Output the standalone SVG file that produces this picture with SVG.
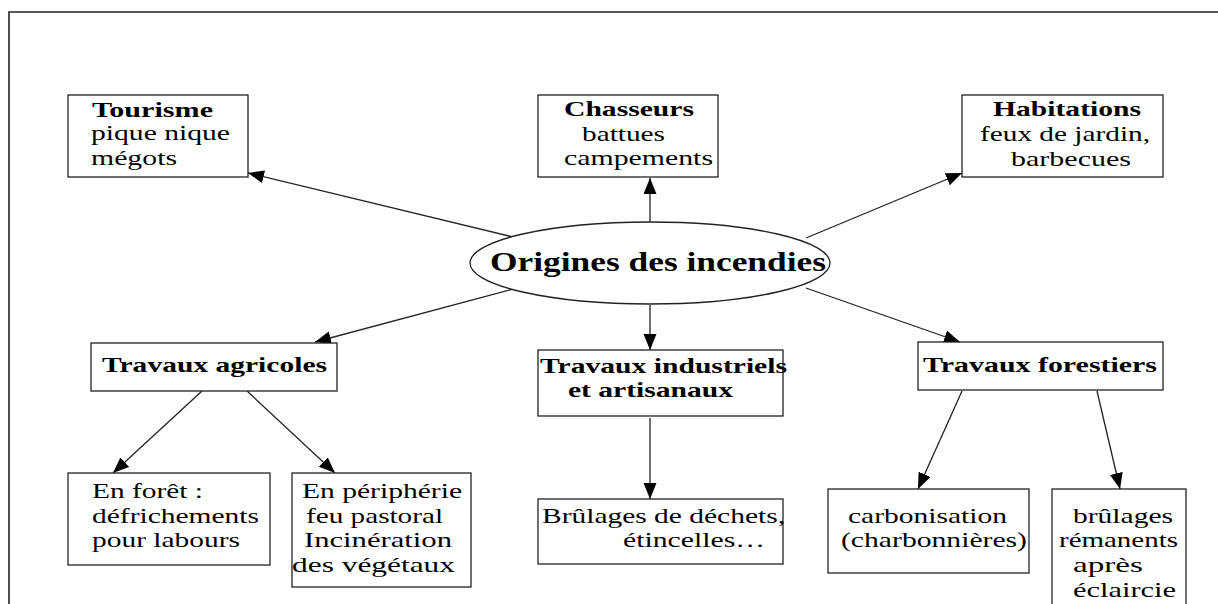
<svg xmlns="http://www.w3.org/2000/svg" width="1218" height="604" viewBox="0 0 1218 604">
<style>
.box{fill:#fff;stroke:#222;stroke-width:1.3}
.t{font-family:"Liberation Serif","Times New Roman",serif;font-size:22px;fill:#000}
.b{font-weight:bold}
.title{font-family:"Liberation Serif","Times New Roman",serif;font-size:28px;font-weight:bold;fill:#000}
.edge{stroke:#222;stroke-width:1.3;fill:none;marker-end:url(#arr)}
</style>
<defs>
<marker id="arr" markerUnits="userSpaceOnUse" markerWidth="17" markerHeight="14" refX="16" refY="6.5" orient="auto">
<path d="M0,0 L16,6.5 L0,13 z" fill="#000"/>
</marker>
</defs>
<rect x="0" y="0" width="1218" height="604" fill="#fff"/>
<path d="M9,610 L9,12 L1225,12" fill="none" stroke="#222" stroke-width="1.6"/>

<g id="connectors">
<line class="edge" x1="513" y1="237" x2="248" y2="173"/>
<line class="edge" x1="650" y1="222" x2="650" y2="178"/>
<line class="edge" x1="806" y1="238" x2="962" y2="173"/>
<line class="edge" x1="513" y1="289" x2="315" y2="342"/>
<line class="edge" x1="650" y1="305" x2="650" y2="350"/>
<line class="edge" x1="806" y1="288" x2="960" y2="342"/>
<line class="edge" x1="202" y1="391" x2="113" y2="473"/>
<line class="edge" x1="247" y1="391" x2="335" y2="473"/>
<line class="edge" x1="650" y1="418" x2="650" y2="499"/>
<line class="edge" x1="962" y1="391" x2="918" y2="489"/>
<line class="edge" x1="1097" y1="391" x2="1120" y2="489"/>
</g>

<g id="origines">
<ellipse cx="650" cy="263" rx="180" ry="41" fill="#fff" stroke="#222" stroke-width="1.3"/>
<text class="title" x="490" y="271" textLength="336" lengthAdjust="spacingAndGlyphs">Origines des incendies</text>
</g>

<g id="tourisme">
<rect class="box" x="68" y="95" width="180" height="82"/>
<text class="t b" x="92" y="117" textLength="121" lengthAdjust="spacingAndGlyphs">Tourisme</text>
<text class="t" x="91" y="140" textLength="139" lengthAdjust="spacingAndGlyphs">pique nique</text>
<text class="t" x="91" y="165" textLength="86" lengthAdjust="spacingAndGlyphs">mégots</text>
</g>

<g id="chasseurs">
<rect class="box" x="538" y="95" width="180" height="82"/>
<text class="t b" x="564" y="116" textLength="130" lengthAdjust="spacingAndGlyphs">Chasseurs</text>
<text class="t" x="582" y="141" textLength="83" lengthAdjust="spacingAndGlyphs">battues</text>
<text class="t" x="564" y="165" textLength="149" lengthAdjust="spacingAndGlyphs">campements</text>
</g>

<g id="habitations">
<rect class="box" x="962" y="95" width="201" height="82"/>
<text class="t b" x="993" y="116" textLength="148" lengthAdjust="spacingAndGlyphs">Habitations</text>
<text class="t" x="980" y="141" textLength="170" lengthAdjust="spacingAndGlyphs">feux de jardin,</text>
<text class="t" x="1011" y="166" textLength="120" lengthAdjust="spacingAndGlyphs">barbecues</text>
</g>

<g id="agricoles">
<rect class="box" x="91" y="343" width="246" height="48"/>
<text class="t b" x="102" y="372" textLength="225" lengthAdjust="spacingAndGlyphs">Travaux agricoles</text>
</g>

<g id="industriels">
<rect class="box" x="538" y="350" width="245" height="66"/>
<text class="t b" x="540" y="373" textLength="247" lengthAdjust="spacingAndGlyphs">Travaux industriels</text>
<text class="t b" x="568" y="397" textLength="165" lengthAdjust="spacingAndGlyphs">et artisanaux</text>
</g>

<g id="forestiers">
<rect class="box" x="918" y="342" width="245" height="48"/>
<text class="t b" x="923" y="372" textLength="234" lengthAdjust="spacingAndGlyphs">Travaux forestiers</text>
</g>

<g id="enforet">
<rect class="box" x="68" y="473" width="202" height="92"/>
<text class="t" x="92" y="498" textLength="111" lengthAdjust="spacingAndGlyphs">En forêt :</text>
<text class="t" x="92" y="523" textLength="167" lengthAdjust="spacingAndGlyphs">défrichements</text>
<text class="t" x="92" y="547" textLength="148" lengthAdjust="spacingAndGlyphs">pour labours</text>
</g>

<g id="peripherie">
<rect class="box" x="292" y="473" width="179" height="114"/>
<text class="t" x="302" y="498" textLength="160" lengthAdjust="spacingAndGlyphs">En périphérie</text>
<text class="t" x="306" y="523" textLength="137" lengthAdjust="spacingAndGlyphs">feu pastoral</text>
<text class="t" x="304" y="547" textLength="148" lengthAdjust="spacingAndGlyphs">Incinération</text>
<text class="t" x="292" y="572" textLength="163" lengthAdjust="spacingAndGlyphs">des végétaux</text>
</g>

<g id="brulages-dechets">
<rect class="box" x="538" y="499" width="245" height="65"/>
<text class="t" x="542" y="523" textLength="243" lengthAdjust="spacingAndGlyphs">Brûlages de déchets,</text>
<text class="t" x="623" y="547" textLength="142" lengthAdjust="spacingAndGlyphs">étincelles…</text>
</g>

<g id="carbonisation">
<rect class="box" x="828" y="489" width="201" height="84"/>
<text class="t" x="848" y="523" textLength="159" lengthAdjust="spacingAndGlyphs">carbonisation</text>
<text class="t" x="841" y="547" textLength="186" lengthAdjust="spacingAndGlyphs">(charbonnières)</text>
</g>

<g id="brulages-remanents">
<rect class="box" x="1052" y="489" width="134" height="130"/>
<text class="t" x="1073" y="523" textLength="100" lengthAdjust="spacingAndGlyphs">brûlages</text>
<text class="t" x="1059" y="547" textLength="119" lengthAdjust="spacingAndGlyphs">rémanents</text>
<text class="t" x="1073" y="572" textLength="70" lengthAdjust="spacingAndGlyphs">après</text>
<text class="t" x="1073" y="597" textLength="103" lengthAdjust="spacingAndGlyphs">éclaircie</text>
</g>
</svg>
